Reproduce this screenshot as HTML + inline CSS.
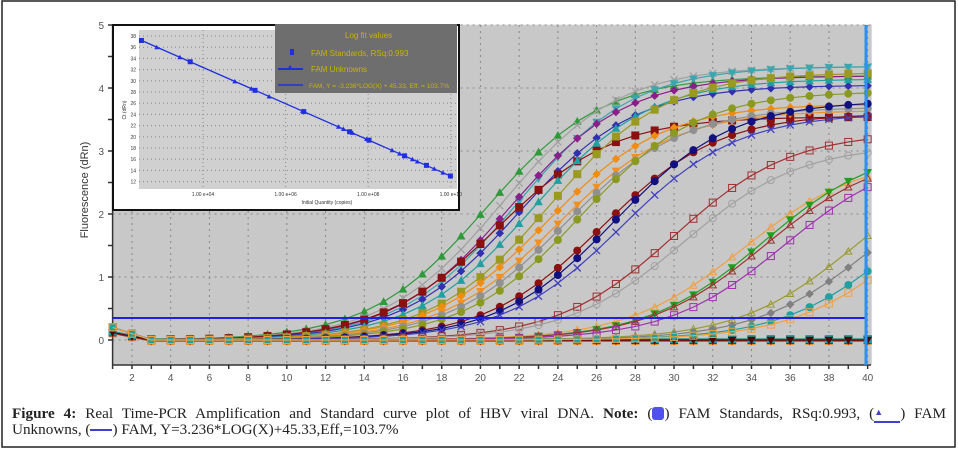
<!DOCTYPE html>
<html><head><meta charset="utf-8"><style>
body{margin:0;background:#fff;font-family:"Liberation Serif",serif}
#wrap{position:relative;width:958px;height:450px;overflow:hidden}
.cap{position:absolute;left:12px;font-size:15.2px;line-height:18px;color:#222;width:934px;white-space:nowrap}
.l1{top:403px;text-align:justify;text-align-last:justify}
.l2{top:421px}
</style></head><body>
<div id="wrap">
<svg id="chart" width="958" height="450" style="position:absolute;left:0;top:0"></svg>
<div class="cap l1"><b>Figure 4:</b> Real Time-PCR Amplification and Standard curve plot of HBV viral DNA. <b>Note:</b> (<span style="display:inline-block;width:12px;height:13px;background:#5050f0;border-radius:3px;vertical-align:-2px"></span>) FAM Standards, RSq:0.993, (<span style="display:inline-block;width:26px;border-bottom:2px solid #4040d0;vertical-align:3px;text-align:center;font-size:9px;color:#4040d0">▲</span>) FAM</div>
<div class="cap l2">Unknowns, (<span style="display:inline-block;width:22px;border-bottom:2px solid #4040d0;vertical-align:3px"></span>) FAM, Y=3.236*LOG(X)+45.33,Eff,=103.7%</div>
</div>
<script>
const cycles=Array.from({length:40},(_,i)=>i+1);
const curveCt=[13.1,13.8,14.6,14.3,14.9,14.2,15.5,16.3,16.6,17.2,17.6,18.2,19.6,20.1,20.6,23.6,24.3,27.6,28.4,28.6,29.6,33.3,34.3,35.6,36.2];
const curveMax=[4.2,4.35,4.35,4.2,4.05,3.55,4.15,4.25,3.75,3.65,3.7,3.95,3.6,3.8,3.6,3.3,3.1,2.9,3.1,3.0,3.0,3.0,2.9,3.0,2.9];
const curveColor=["#2e9a3a","#a0a0a0","#3aa6b0","#8a1f8a","#3030b0","#8b1010","#20a0a0","#9a9a20","#f08c10","#f09020","#909090","#8a9a20","#8b1010","#101080","#4040c0","#a03030","#a0a0a0","#f0a040","#20a020","#a03030","#a030b0","#9a9a30","#808080","#20a0a0","#f0a040"];
const curveMarker=["tri","x","tridn","dia","dia","sq","tri","sq","dia","tridn","circ","circ","circ","circ","x","sqo","circo","trio","tridn","trio","sqo","trio","dia","circ","sqo"];
const negCount=8;
const yTicks=[0,1,2,3,4,5];
const xTicks=[2,4,6,8,10,12,14,16,18,20,22,24,26,28,30,32,34,36,38,40];
const threshold=0.35;
const stdCt=[37.2,36.0,34.2,33.4,29.9,28.6,28.3,27.2,24.6,24.5,21.8,21.4,20.9,20.7,19.6,19.4,17.6,17.0,16.6,16.0,15.6,14.9,14.3,13.6,13.0];
const stdLog=[2.51,2.88,3.44,3.69,4.77,5.17,5.26,5.6,6.41,6.44,7.28,7.4,7.55,7.62,7.96,8.02,8.58,8.76,8.88,9.07,9.19,9.41,9.6,9.81,9.99];
const insetYTicks=[12,14,16,18,20,22,24,26,28,30,32,34,36,38];
const insetXTicks=[4,6,8,10];
const insetXLabels=["1.00 e+04","1.00 e+06","1.00 e+08","1.00 e+10"];
const fitSlope=-3.236, fitIcpt=45.33;

const NS="http://www.w3.org/2000/svg";
const svg=document.getElementById('chart');
function mk(t,a,p){const e=document.createElementNS(NS,t);for(const k in a)e.setAttribute(k,a[k]);(p||svg).appendChild(e);return e;}
const X=c=>112.6+(c-1)*19.36, Y=v=>340-v*63;
const frame=mk('rect',{x:2,y:1,width:953,height:446,fill:'none',stroke:'#222','stroke-width':1.5});

const plot=mk('rect',{x:112.6,y:25,width:759,height:340,fill:'#c8c8c8',stroke:'#ddd'});

const grid=mk('g',{stroke:'#888','stroke-dasharray':'2,4','stroke-width':1});

xTicks.forEach(t=>mk('line',{x1:X(t),x2:X(t),y1:25,y2:365},grid));
yTicks.forEach(t=>mk('line',{x1:112.6,x2:871,y1:Y(t),y2:Y(t)},grid));
const ax=mk('g',{stroke:'#333','stroke-width':1.5});

mk('line',{x1:112.6,x2:112.6,y1:25,y2:365},ax);mk('line',{x1:112.6,x2:871,y1:365,y2:365},ax);
cycles.forEach(c=>mk('line',{x1:X(c),x2:X(c),y1:365,y2:369},ax));
for(let v=0;v<=5;v+=0.5)mk('line',{x1:108,x2:112.6,y1:Y(v),y2:Y(v)},ax);
xTicks.forEach(t=>{const e=mk('text',{x:X(t),y:381,'font-size':10,'text-anchor':'middle',fill:'#555','font-family':'Liberation Sans'});e.textContent=t;});
yTicks.forEach(t=>{const e=mk('text',{x:104,y:Y(t)+4,'font-size':10,'text-anchor':'end',fill:'#555','font-family':'Liberation Sans'});e.textContent=t;});
const yt=mk('text',{x:88,y:190,'font-size':11,'text-anchor':'middle',fill:'#333','font-family':'Liberation Sans',transform:'rotate(-90 88 190)'});yt.textContent='Fluorescence (dRn)';

function marker(g,m,x,y,col){const r=3.5;
 if(m==='tri'||m==='trio')mk('polygon',{points:`${x},${y-r} ${x-r},${y+r*0.8} ${x+r},${y+r*0.8}`,fill:m==='tri'?col:'none',stroke:col},g);
 else if(m==='tridn')mk('polygon',{points:`${x},${y+r} ${x-r},${y-r*0.8} ${x+r},${y-r*0.8}`,fill:col,stroke:col},g);
 else if(m==='sq'||m==='sqo')mk('rect',{x:x-r,y:y-r,width:2*r,height:2*r,fill:m==='sq'?col:'none',stroke:col},g);
 else if(m==='dia')mk('polygon',{points:`${x},${y-r} ${x+r},${y} ${x},${y+r} ${x-r},${y}`,fill:col,stroke:col},g);
 else if(m==='circ'||m==='circo')mk('circle',{cx:x,cy:y,r:r,fill:m==='circ'?col:'none',stroke:col},g);
 else {mk('path',{d:`M${x-r} ${y-r}L${x+r} ${y+r}M${x-r} ${y+r}L${x+r} ${y-r}`,stroke:col,'stroke-width':1.3},g);}
}
const negCols=["#8b1010","#101080","#f09020","#9a9a20","#3030b0","#a03030","#20a0a0","#500000"];
for(let n=0;n<negCount;n++){const g=mk('g',{});
 const pts=cycles.map(c=>[X(c),Y(c<3?0.12/(c):0)+((n%3)-1)]);
 mk('polyline',{points:pts.map(p=>p.join(',')).join(' '),fill:'none',stroke:negCols[n],'stroke-width':1.2},g);
 pts.forEach(p=>marker(g,n%2?'tridn':'sq',p[0],p[1],negCols[n]));}
curveCt.forEach((ct,i)=>{const P=curveMax[i],s=3,x0=ct+s*Math.log(P/threshold-1),col=curveColor[i];
 const g=mk('g',{});
 const pts=cycles.map(c=>{let v=P/(1+Math.exp(-(c-x0)/s))-P/(1+Math.exp(-(1-x0)/s));if(c<3)v+=0.2/c;return [X(c),Y(v)];});
 mk('polyline',{points:pts.map(p=>p.join(',')).join(' '),fill:'none',stroke:col,'stroke-width':1.2},g);
 pts.forEach(p=>marker(g,curveMarker[i],p[0],p[1],col));});
const th=mk('line',{x1:112.6,x2:866,y1:Y(threshold),y2:Y(threshold),stroke:'#2020e0','stroke-width':2});

const vl=mk('line',{x1:866,x2:866,y1:25,y2:365,stroke:'#3090f0','stroke-width':3});

const ins=mk('g',{});
mk('rect',{x:113,y:25,width:346,height:185,fill:'#fff',stroke:'#111','stroke-width':2},ins);
const IX=l=>203+(l-4)*41.3, IY=v=>36-(v-38)*5.6;
mk('rect',{x:139,y:30,width:318,height:159,fill:'#d0d0d0'},ins);
insetXTicks.forEach((t,i)=>{mk('line',{x1:IX(t),x2:IX(t),y1:30,y2:189,stroke:'#888','stroke-dasharray':'1,3'},ins);
 const e=mk('text',{x:IX(t),y:196,'font-size':5,'text-anchor':'middle',fill:'#333','font-family':'Liberation Sans'},ins);e.textContent=insetXLabels[i];});
insetYTicks.forEach(t=>{mk('line',{x1:139,x2:457,y1:IY(t),y2:IY(t),stroke:'#888','stroke-dasharray':'1,3'},ins);
 const e=mk('text',{x:136,y:IY(t)+2,'font-size':5,'text-anchor':'end',fill:'#333','font-family':'Liberation Sans'},ins);e.textContent=t;});
const it=mk('text',{x:IX(7),y:204,'font-size':5,'text-anchor':'middle',fill:'#333','font-family':'Liberation Sans'},ins);it.textContent='Initial Quantity (copies)';
const iy=mk('text',{x:126,y:110,'font-size':5,'text-anchor':'middle',fill:'#333','font-family':'Liberation Sans',transform:'rotate(-90 126 110)'},ins);iy.textContent='Ct (dRn)';
mk('line',{x1:IX(2.48),y1:IY(fitSlope*2.48+fitIcpt),x2:IX(10.05),y2:IY(fitSlope*10.05+fitIcpt),stroke:'#2030e0','stroke-width':1.3},ins);
stdLog.forEach((l,i)=>{const x=IX(l),y=IY(stdCt[i]);if(i%3==0)mk('rect',{x:x-2.5,y:y-2.5,width:5,height:5,fill:'#2030e0'},ins);else mk('polygon',{points:`${x},${y-2.5} ${x-2.5},${y+2} ${x+2.5},${y+2}`,fill:'#2030e0'},ins);});
const lg=mk('g',{});
mk('rect',{x:275,y:24,width:182,height:69,fill:'#6e6e6e'},lg);
const tx=(x,y,s,sz)=>{const e=mk('text',{x,y,'font-size':sz||8,fill:'#c8b400','font-family':'Liberation Sans'},lg);e.textContent=s;};
tx(345,38,'Log fit values',8);
mk('rect',{x:290,y:49,width:4,height:6,fill:'#2030e0'},lg);tx(311,56,'FAM Standards, RSq:0.993');
mk('line',{x1:278,x2:303,y1:69,y2:69,stroke:'#2030e0','stroke-width':2},lg);mk('polygon',{points:'290,65 287,70 293,70',fill:'#2030e0'},lg);tx(311,72,'FAM Unknowns');
mk('line',{x1:278,x2:303,y1:85,y2:85,stroke:'#2030e0','stroke-width':1.5},lg);tx(309,88,'FAM, Y = -3.236*LOG(X) + 45.33, Eff. = 103.7%',6.6);
</script></body></html>
